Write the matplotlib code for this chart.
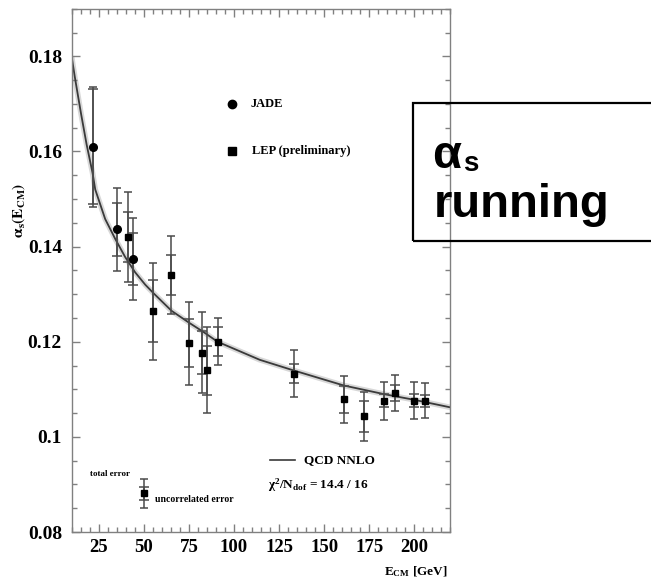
import matplotlib
matplotlib.use('Agg')
import numpy as np
import matplotlib.pyplot as plt
from matplotlib.ticker import MultipleLocator, FormatStrFormatter
from matplotlib.patches import Rectangle

# --- dados ---
jade_x = [22, 35, 44]
jade_y = [0.161, 0.1436, 0.1374]
jade_tot = [0.0126, 0.0088, 0.0087]
jade_unc = [0.0121, 0.0056, 0.0055]

lep_x = [41, 55, 65, 75, 82, 85, 91, 133, 161, 172, 183, 189, 200, 206]
lep_y = [0.142, 0.1264, 0.1341, 0.1197, 0.1177, 0.114, 0.120, 0.1133,
         0.1079, 0.1043, 0.1076, 0.1092, 0.1076, 0.1076]
lep_tot = [0.0094, 0.0102, 0.0082, 0.0087, 0.0085, 0.0090, 0.0049, 0.0049,
           0.0049, 0.0052, 0.0040, 0.0038, 0.0039, 0.0037]
lep_unc = [0.0052, 0.0065, 0.0042, 0.0051, 0.0045, 0.0052, 0.0030, 0.0020,
           0.0028, 0.0033, 0.0014, 0.0017, 0.0014, 0.0013]

# curva QCD NNLO (pontos lidos ao longo da linha)
fit_x = [10, 11.8, 15.2, 18.3, 21.6, 23.1, 28.6, 34.2, 39.7, 45.2, 50.8, 55.4,
         65.4, 75.5, 82.9, 90.9, 114.3, 132.8, 160.9, 183, 199.8, 220]
fit_y = [0.1800, 0.1756, 0.1680, 0.1615, 0.1555, 0.1520, 0.1458, 0.1416,
         0.1378, 0.1346, 0.1320, 0.1302, 0.1265, 0.1239, 0.1221, 0.1200,
         0.1162, 0.1140, 0.1108, 0.1090, 0.1078, 0.1062]

# exemplo de barra de erro da legenda
key_x = [50]
key_y = [0.0881]
key_tot = [0.0031]
key_unc = [0.0014]

plt.rcParams['font.family'] = ['Liberation Serif', 'DejaVu Serif']
plt.rcParams['font.weight'] = 'bold'
plt.rcParams['mathtext.fontset'] = 'custom'
plt.rcParams['mathtext.rm'] = 'Liberation Serif:bold'
plt.rcParams['mathtext.bf'] = 'Liberation Serif:bold'
plt.rcParams['mathtext.it'] = 'Liberation Serif:bold:italic'
plt.rcParams['mathtext.default'] = 'bf'

fig = plt.figure(figsize=(6.51, 5.84), dpi=100)
ax = fig.add_axes([0.110, 0.089, 0.582, 0.896])

ecol = '#4a4a4a'

# curva com banda cinza
ax.plot(fit_x, fit_y, color='#d8d8d8', lw=4.0, solid_capstyle='butt', zorder=1)
ax.plot(fit_x, fit_y, color='#3a3a3a', lw=1.3, zorder=2)

for xs, ys, tot, unc, mk in [(jade_x, jade_y, jade_tot, jade_unc, 'o'),
                             (lep_x, lep_y, lep_tot, lep_unc, 's'),
                             (key_x, key_y, key_tot, key_unc, 's')]:
    ax.errorbar(xs, ys, yerr=tot, fmt='none', ecolor=ecol, elinewidth=1.1,
                capsize=3.2, capthick=1.1, zorder=3)
    ax.errorbar(xs, ys, yerr=unc, fmt='none', ecolor=ecol, elinewidth=1.1,
                capsize=3.6, capthick=1.1, zorder=3)
    ax.plot(xs, ys, mk, color='black', ms=5.5 if mk == 'o' else 5.0, zorder=4)

ax.set_xlim(10, 220)
ax.set_ylim(0.08, 0.19)
ax.xaxis.set_major_locator(MultipleLocator(25))
ax.xaxis.set_minor_locator(MultipleLocator(5))
ax.yaxis.set_major_locator(MultipleLocator(0.02))
ax.yaxis.set_minor_locator(MultipleLocator(0.005))
ax.yaxis.set_major_formatter(FormatStrFormatter('%g'))
ax.set_xticks([25, 50, 75, 100, 125, 150, 175, 200])

ax.tick_params(which='both', direction='in', top=True, right=True,
               color='#808080', width=1)
ax.tick_params(which='major', length=6)
ax.tick_params(which='minor', length=3.5)
ax.tick_params(axis='y', labelsize=14, pad=7)
ax.tick_params(axis='x', labelsize=13.5, pad=5)
for sp in ax.spines.values():
    sp.set_color('#808080')
    sp.set_linewidth(1)

# legenda
ax.plot([0.4237], [0.8178], 'o', color='black', ms=6, transform=ax.transAxes)
ax.text(0.473, 0.8178, 'JADE', transform=ax.transAxes, fontsize=9,
        va='center', ha='left')
ax.plot([0.4237], [0.729], 's', color='black', ms=5.5, transform=ax.transAxes)
ax.text(0.477, 0.729, 'LEP (preliminary)', transform=ax.transAxes, fontsize=9,
        va='center', ha='left')

ax.text(0.048, 0.111, 'total error', transform=ax.transAxes, fontsize=6.5,
        va='center', ha='left')
ax.text(0.221, 0.062, 'uncorrelated error', transform=ax.transAxes,
        fontsize=7, va='center', ha='left')

ax.plot([0.524, 0.589], [0.1377, 0.1377], color='#3a3a3a', lw=1.2,
        transform=ax.transAxes)
ax.text(0.614, 0.1377, 'QCD NNLO', transform=ax.transAxes, fontsize=9.5,
        va='center', ha='left')
ax.text(0.518, 0.090, r'$\chi^2$/N$_{dof}$ = 14.4 / 16', transform=ax.transAxes,
        fontsize=9.5, va='center', ha='left')

fig.text(0.688, 0.021, r'E$_{CM}$ [GeV]', fontsize=9.5, ha='right', va='center')
fig.text(0.029, 0.64, r'$\alpha_s(E_{CM})$', fontsize=11, rotation=90,
         ha='center', va='center', math_fontfamily='stix')

# caixa com o texto
fig.patches.append(Rectangle((0.635, 0.587), 0.5, 0.236, transform=fig.transFigure,
                             fill=False, edgecolor='black', lw=1.6))
fig.text(0.664, 0.712, 'α', fontsize=34, family='Liberation Sans',
         weight='bold', ha='left', va='baseline')
fig.text(0.711, 0.707, 's', fontsize=20, family='Liberation Sans',
         weight='bold', ha='left', va='baseline')
fig.text(0.666, 0.628, 'running', fontsize=34, family='Liberation Sans',
         weight='bold', ha='left', va='baseline')

fig.savefig('out.png', dpi=100)
